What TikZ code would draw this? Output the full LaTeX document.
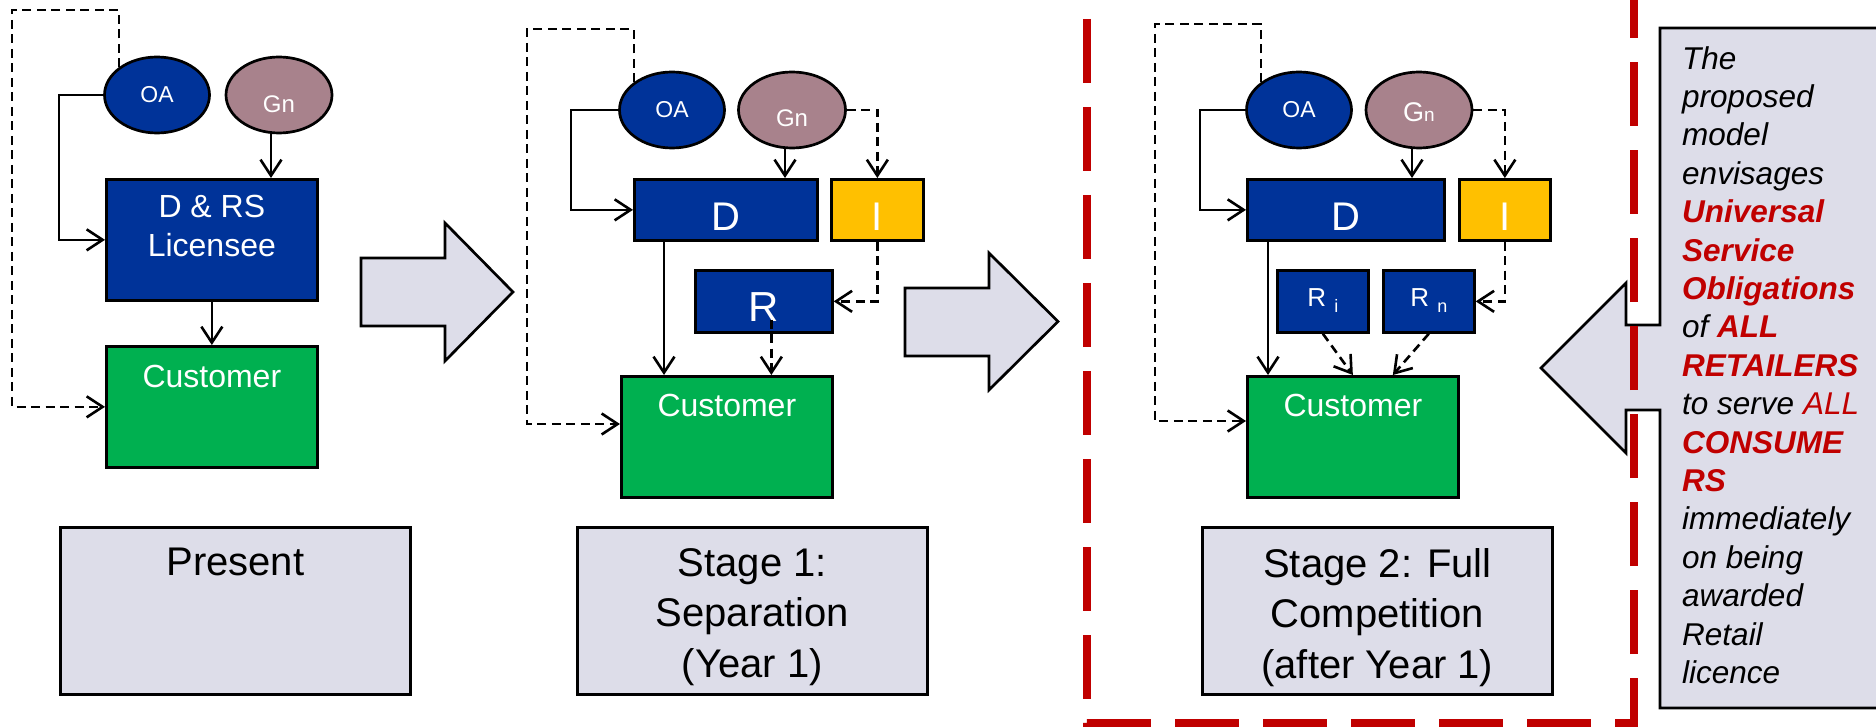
\documentclass[tikz,border=0pt]{standalone}
\usepackage{fontspec}
\setmainfont{Liberation Sans}
\usetikzlibrary{arrows.meta,shapes.geometric}

\definecolor{boxblue}{RGB}{0,51,153}
\definecolor{gnmauve}{RGB}{168,130,140}
\definecolor{custgreen}{RGB}{0,176,80}
\definecolor{indgold}{RGB}{255,192,0}
\definecolor{panelgrey}{RGB}{221,221,233}
\definecolor{framered}{RGB}{192,0,0}

\newcommand{\fs}[2]{\fontsize{#1}{#2}\selectfont}
\newcommand{\redword}[1]{\textcolor{framered}{#1}}

\tikzset{
  outlined/.style={draw=black, line width=2.7pt},
  oval/.style={outlined, ellipse, inner sep=0pt, minimum width=105pt,
               minimum height=76pt, text=white},
  oablue/.style={oval, fill=boxblue, font=\fs{23}{23}},
  gnoval/.style={oval, fill=gnmauve},
  blk/.style={outlined, rectangle, inner sep=0pt, anchor=north west},
  bluebox/.style={blk, fill=boxblue},
  greenbox/.style={blk, fill=custgreen, minimum width=211pt, minimum height=121pt},
  goldbox/.style={blk, fill=indgold},
  stagebox/.style={blk, fill=panelgrey, minimum width=350pt, minimum height=167pt},
  wtext/.style={text=white, inner sep=0pt},
  bigletter/.style={wtext, anchor=base, font=\fs{40}{40}},
  custtext/.style={wtext, anchor=base, font=\fs{32}{32}},
  stagetext/.style={inner sep=0pt, anchor=north, align=center, font=\fs{40}{50.5}},
  conn/.style={line width=2.6pt, -{Straight Barb[length=16pt,width=21pt]}},
  dconn/.style={conn, dash pattern=on 9pt off 5.5pt},
  bigarrow/.style={outlined, fill=panelgrey, line join=miter},
}

\begin{document}
\begin{tikzpicture}[x=1pt,y=-1pt]
\useasboundingbox (0,0) rectangle (1876,727);
\fill[white] (0,0) rectangle (1876,727);

% ---------------- Present ----------------
\node[oablue] (oa1) at (157,95) {OA};
\node[gnoval, minimum width=106pt] (gn1) at (279,95) {};
\node[wtext, font=\fs{24}{24}] (gn1t) at ([yshift=-9pt]gn1.center) {Gn};
\node[bluebox, minimum width=211pt, minimum height=121pt] (drs1) at (105,178) {};
\node[wtext, anchor=north, align=center, font=\fs{32}{39}] (drs1t)
     at ([yshift=-17pt]drs1.north) {D \& RS\\Licensee};
\node[greenbox] (cust1) at (105,345) {};
\node[custtext] (cust1t) at ([yshift=-42pt]cust1.north) {Customer};
\node[stagebox] (lab1) at (59,526) {};
\node[stagetext] (lab1t) at ([yshift=-22pt]lab1.north) {Present};

\coordinate (p1top) at (12,10);
\coordinate (p1elbow) at (59,95);
\draw[conn] (oa1.west) -- (p1elbow) |- (drs1.west);
\draw[conn] ([xshift=-8pt]gn1.south) -- ([xshift=-8pt]gn1.south |- drs1.north);
\draw[conn] (drs1.south) -- (cust1.north);
\draw[dconn] (oa1.144) |- (p1top) |- (cust1.west);

\draw[bigarrow] (361,258) -- (445,258) -- (445,223) -- (513,292)
  -- (445,361) -- (445,326) -- (361,326) -- cycle;

% ---------------- Stage 1 ----------------
\node[oablue] (oa2) at (672,110) {OA};
\node[gnoval, minimum width=107pt] (gn2) at (792,110) {};
\node[wtext, font=\fs{24}{24}] (gn2t) at ([yshift=-8pt]gn2.center) {Gn};
\node[bluebox, minimum width=183pt, minimum height=61pt] (d2) at (633,178) {};
\node[bigletter] (d2t) at ([yshift=-20.5pt]d2.center) {D};
\node[goldbox, minimum width=92pt, minimum height=61pt] (i2) at (830,178) {};
\node[bigletter] (i2t) at ([yshift=-20.5pt]i2.center) {I};
\node[bluebox, minimum width=137pt, minimum height=62pt] (r2) at (694,269) {};
\node[bigletter, font=\fs{42}{42}] (r2t) at ([yshift=-20pt]r2.center) {R};
\node[greenbox] (cust2) at (620,375) {};
\node[custtext] (cust2t) at ([yshift=-41pt]cust2.north) {Customer};
\node[stagebox] (lab2) at (576,526) {};
\node[stagetext] (lab2t) at ([yshift=-22pt]lab2.north) {Stage 1:\\Separation\\(Year 1)};

\coordinate (p2top) at (527,29);
\coordinate (p2bot) at (527,424);
\coordinate (p2elbow) at (571,110);
\draw[conn] (oa2.west) -- (p2elbow) |- (d2.west);
\draw[conn] ([xshift=-7pt]gn2.south) -- ([xshift=-7pt]gn2.south |- d2.north);
\draw[dconn] (gn2.east) -| (i2.north);
\draw[dconn] (i2.south) |- (r2.east);
\draw[conn] ([xshift=31pt]d2.south west) -- ([xshift=31pt]d2.south west |- cust2.north);
\draw[dconn] ([xshift=7.5pt,yshift=14pt]r2.south) -- ([xshift=7.5pt]r2.south |- cust2.north);
\draw[dconn] (oa2.144) |- (p2top) -- (p2bot) -- (p2bot -| cust2.west);

\draw[bigarrow] (905,288) -- (989,288) -- (989,253) -- (1058,321.5)
  -- (989,390) -- (989,356) -- (905,356) -- cycle;

% ---------------- Stage 2 ----------------
\node[oablue] (oa3) at (1299,110) {OA};
\node[gnoval, minimum width=106pt] (gn3) at (1419,110) {};
\node[wtext, anchor=base] (gn3t) at ([yshift=-12pt]gn3.center)
     {{\fs{27}{27}G}{\fs{19}{19}n}};
\node[bluebox, minimum width=197pt, minimum height=61pt] (d3) at (1246,178) {};
\node[bigletter] (d3t) at ([yshift=-20.5pt]d3.center) {D};
\node[goldbox, minimum width=91pt, minimum height=61pt] (i3) at (1458,178) {};
\node[bigletter] (i3t) at ([yshift=-20.5pt]i3.center) {I};
\node[bluebox, minimum width=91pt, minimum height=62pt] (ri3) at (1276,269) {};
\node[wtext, anchor=base] (ri3t) at ([yshift=-5pt]ri3.center)
     {\fs{26}{26}R\hspace{8pt}\raisebox{-6pt}{\fs{18}{18}i}};
\node[bluebox, minimum width=91pt, minimum height=62pt] (rn3) at (1382,269) {};
\node[wtext, anchor=base] (rn3t) at ([yshift=-5pt]rn3.center)
     {\fs{26}{26}R\hspace{8pt}\raisebox{-6pt}{\fs{18}{18}n}};
\node[greenbox] (cust3) at (1246,375) {};
\node[custtext] (cust3t) at ([yshift=-41pt]cust3.north) {Customer};
\node[stagebox] (lab3) at (1201,526) {};
\node[stagetext] (lab3t) at ([yshift=-22pt]lab3.north)
     {Stage 2: Full\\Competition\\(after Year 1)};

\coordinate (p3top) at (1155,24);
\coordinate (p3bot) at (1155,421);
\coordinate (p3elbow) at (1200,110);
\draw[conn] (oa3.west) -- (p3elbow) |- (d3.west);
\draw[conn] ([xshift=-7pt]gn3.south) -- ([xshift=-7pt]gn3.south |- d3.north);
\draw[dconn] (gn3.east) -| (i3.north);
\draw[dconn] (i3.south) |- (rn3.east);
\draw[conn] ([xshift=22pt]d3.south west) -- ([xshift=22pt]d3.south west |- cust3.north);
\draw[dconn] (ri3.south) -- (cust3.north);
\draw[dconn] (rn3.south) -- ([xshift=40pt]cust3.north);
\draw[dconn] (oa3.144) |- (p3top) -- (p3bot) -- (p3bot -| cust3.west);

% ---------------- Callout ----------------
\draw[bigarrow] (1885,28) -- (1660,28) -- (1660,325) -- (1626,325) -- (1626,283)
  -- (1541,368) -- (1626,453) -- (1626,410) -- (1660,410) -- (1660,708)
  -- (1885,708) -- cycle;
\node[inner sep=0pt, anchor=north west, align=left, font=\fs{31.5}{38.4}\itshape]
  (note) at (1682,46) {The\\proposed\\model\\envisages\\
  \redword{\bfseries Universal}\\
  \redword{\bfseries Service}\\
  \redword{\bfseries Obligations}\\
  of \redword{\bfseries ALL}\\
  \redword{\bfseries RETAILERS}\\
  to serve \redword{ALL}\\
  \redword{\bfseries CONSUME}\\
  \redword{\bfseries RS}\\
  immediately\\on being\\awarded\\Retail\\licence};

% dashed frame around the full-competition stage
\draw[framered, line width=8pt, dash pattern=on 64pt off 24pt, dash phase=9pt,
      line join=miter]
  (1087,-60) -- (1087,723) -- (1634,723) -- (1634,-60);
\end{tikzpicture}
\end{document}
